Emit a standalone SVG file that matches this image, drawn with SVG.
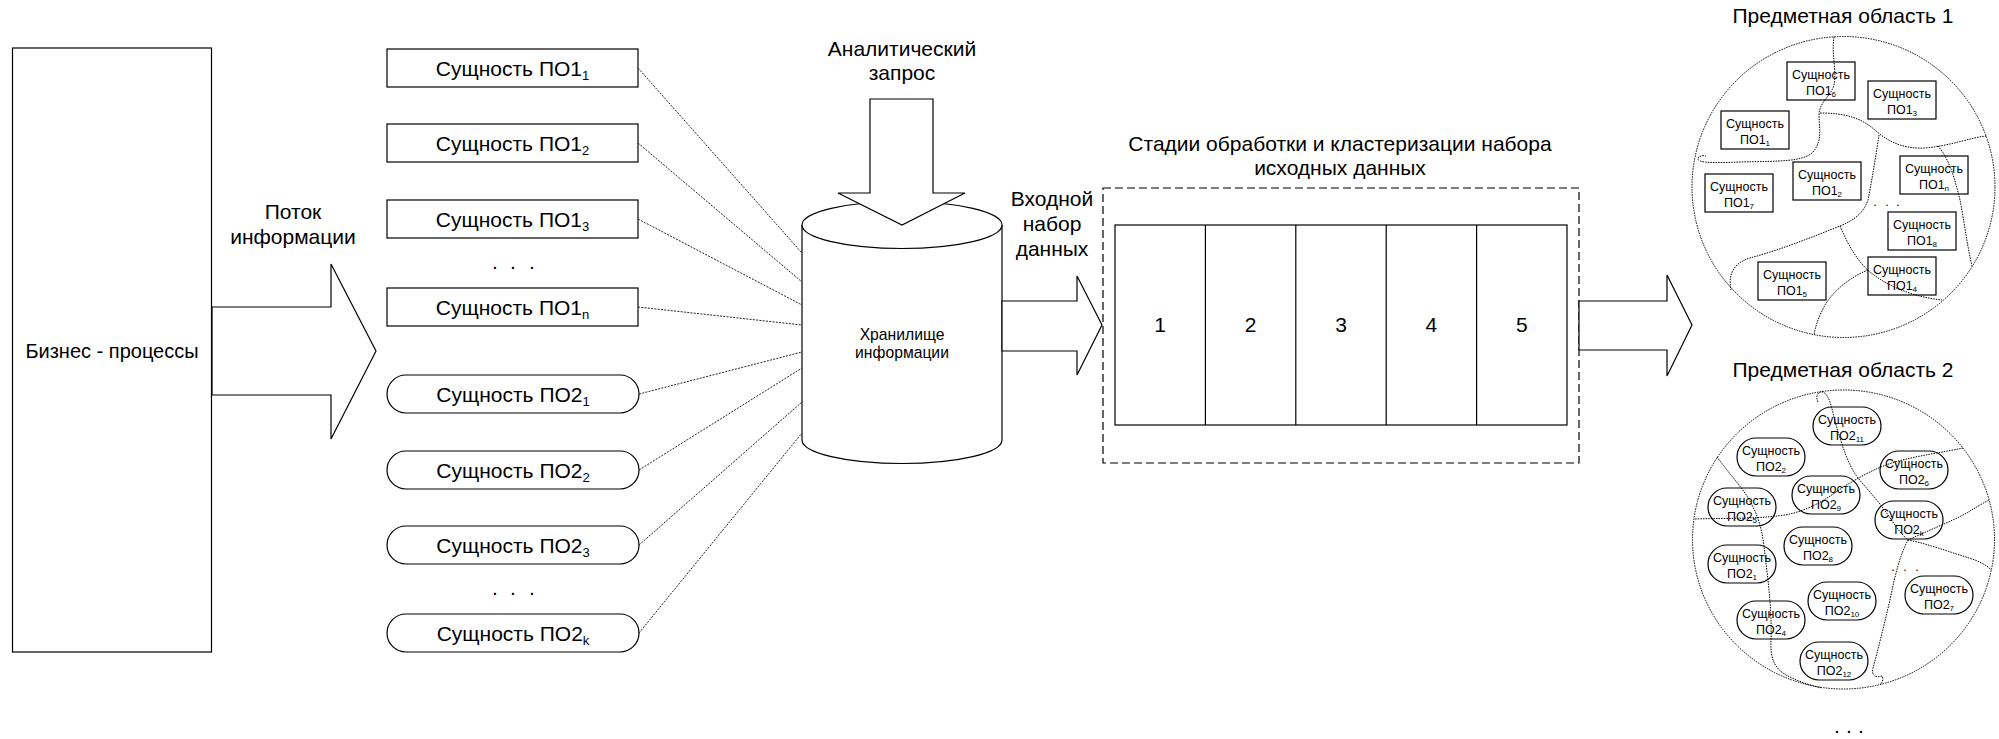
<svg xmlns="http://www.w3.org/2000/svg" width="1999" height="739" viewBox="0 0 1999 739">
  <style>
    text { font-family: "Liberation Sans", Arial, sans-serif; fill: #000; text-anchor: middle; }
    .lbl { font-size: 21px; }
    .big { font-size: 20px; }
    .mid { font-size: 15.7px; }
    .sm { font-size: 12.5px; }
    .sub { font-size: 13px; }
    .ssub { font-size: 8px; }
    .box { fill: #fff; stroke: #000; stroke-width: 1.2; }
    .solid { fill: #fff; stroke: #000; stroke-width: 1.2; }
    .dash { fill: none; stroke: #000; stroke-width: 1.2; stroke-dasharray: 8 4; }
    .dot { fill: none; stroke: #000; stroke-width: 1; stroke-dasharray: 1.5 1.1; }
    .link { fill: none; stroke: #222; stroke-width: 1; stroke-dasharray: 2 1.3; }
  </style>

  <!-- Business processes -->
  <g id="business">
    <rect class="box" x="12.5" y="48" width="199" height="604"/>
    <text class="big" x="112" y="358">Бизнес - процессы</text>
  </g>

  <!-- Information flow label -->
  <g id="flow-label">
    <text class="lbl" x="293" y="219">Поток</text>
    <text class="lbl" x="293" y="244">информации</text>
  </g>

  <!-- Subject area 1 entities -->
  <g id="e1-1"><rect class="box" x="387" y="49" width="251" height="38"/><text class="lbl" x="512.5" y="76">Сущность ПО1<tspan class="sub" dy="4">1</tspan></text></g>
  <g id="e1-2"><rect class="box" x="387" y="124" width="251" height="38"/><text class="lbl" x="512.5" y="151">Сущность ПО1<tspan class="sub" dy="4">2</tspan></text></g>
  <g id="e1-3"><rect class="box" x="387" y="200" width="251" height="38"/><text class="lbl" x="512.5" y="227">Сущность ПО1<tspan class="sub" dy="4">3</tspan></text></g>
  <text class="lbl" x="495 513 532" y="269">...</text>
  <g id="e1-n"><rect class="box" x="387" y="288" width="251" height="38"/><text class="lbl" x="512.5" y="315">Сущность ПО1<tspan class="sub" dy="4">n</tspan></text></g>

  <!-- Subject area 2 entities -->
  <g id="e2-1"><rect class="box" x="387" y="375" width="252" height="38" rx="19"/><text class="lbl" x="513" y="402">Сущность ПО2<tspan class="sub" dy="4">1</tspan></text></g>
  <g id="e2-2"><rect class="box" x="387" y="451" width="252" height="38" rx="19"/><text class="lbl" x="513" y="478">Сущность ПО2<tspan class="sub" dy="4">2</tspan></text></g>
  <g id="e2-3"><rect class="box" x="387" y="526" width="252" height="38" rx="19"/><text class="lbl" x="513" y="553">Сущность ПО2<tspan class="sub" dy="4">3</tspan></text></g>
  <text class="lbl" x="495 513 532" y="595">...</text>
  <g id="e2-k"><rect class="box" x="387" y="614" width="252" height="38" rx="19"/><text class="lbl" x="513" y="641">Сущность ПО2<tspan class="sub" dy="4">k</tspan></text></g>

  <!-- Information storage -->
  <g id="storage">
    <path class="solid" d="M802,225 L802,440 A100,23.5 0 0 0 1002,440 L1002,225"/>
    <ellipse class="solid" cx="902" cy="225" rx="100" ry="23.5"/>
    <text class="mid" x="902" y="340">Хранилище</text>
    <text class="mid" x="902" y="358">информации</text>
  </g>

  <!-- Analytical query -->
  <g id="query">
    <text class="lbl" x="902" y="56">Аналитический</text>
    <text class="lbl" x="902" y="80">запрос</text>
    <polygon class="solid" points="870,99 933,99 933,193 965,193 902,225 838,193 870,193"/>
  </g>

  <!-- Input data set label -->
  <g id="input-label">
    <text class="lbl" x="1052" y="206">Входной</text>
    <text class="lbl" x="1052" y="231">набор</text>
    <text class="lbl" x="1052" y="256">данных</text>
  </g>

  <!-- Processing and clustering stages -->
  <g id="stages">
    <text class="lbl" x="1340" y="151">Стадии обработки и кластеризации набора</text>
    <text class="lbl" x="1340" y="175">исходных данных</text>
    <rect class="dash" x="1103" y="188" width="476" height="275"/>
    <rect class="box" x="1115" y="225" width="452" height="200"/>
    <path fill="none" stroke="#000" stroke-width="1.2" d="M1205.4,225V425M1295.8,225V425M1386.2,225V425M1476.6,225V425"/>
    <text class="lbl" x="1160.2" y="332">1</text>
    <text class="lbl" x="1250.6" y="332">2</text>
    <text class="lbl" x="1341" y="332">3</text>
    <text class="lbl" x="1431.4" y="332">4</text>
    <text class="lbl" x="1521.8" y="332">5</text>
  </g>

  <!-- Subject area 1 -->
  <g id="area1">
    <text class="lbl" x="1843" y="23">Предметная область 1</text>
    <ellipse class="dot" cx="1843.5" cy="187" rx="151.5" ry="150.5"/>
    <g id="a1-6"><rect class="box" x="1787" y="62" width="68" height="38"/><text class="sm" x="1821" y="78.5">Сущность</text><text class="sm" x="1821" y="94.5">ПО1<tspan class="ssub" dy="2">6</tspan></text></g>
    <g id="a1-3"><rect class="box" x="1868" y="81" width="68" height="38"/><text class="sm" x="1902" y="97.5">Сущность</text><text class="sm" x="1902" y="113.5">ПО1<tspan class="ssub" dy="2">3</tspan></text></g>
    <g id="a1-1"><rect class="box" x="1721" y="111" width="68" height="38"/><text class="sm" x="1755" y="127.5">Сущность</text><text class="sm" x="1755" y="143.5">ПО1<tspan class="ssub" dy="2">1</tspan></text></g>
    <g id="a1-2"><rect class="box" x="1793" y="162" width="68" height="38"/><text class="sm" x="1827" y="178.5">Сущность</text><text class="sm" x="1827" y="194.5">ПО1<tspan class="ssub" dy="2">2</tspan></text></g>
    <g id="a1-n"><rect class="box" x="1900" y="156" width="68" height="38"/><text class="sm" x="1934" y="172.5">Сущность</text><text class="sm" x="1934" y="188.5">ПО1<tspan class="ssub" dy="2">n</tspan></text></g>
    <g id="a1-7"><rect class="box" x="1705" y="174" width="68" height="38"/><text class="sm" x="1739" y="190.5">Сущность</text><text class="sm" x="1739" y="206.5">ПО1<tspan class="ssub" dy="2">7</tspan></text></g>
    <text class="sm" x="1875 1887 1898" y="206">...</text>
    <g id="a1-8"><rect class="box" x="1888" y="212" width="68" height="38"/><text class="sm" x="1922" y="228.5">Сущность</text><text class="sm" x="1922" y="244.5">ПО1<tspan class="ssub" dy="2">8</tspan></text></g>
    <g id="a1-4"><rect class="box" x="1868" y="257" width="68" height="38"/><text class="sm" x="1902" y="273.5">Сущность</text><text class="sm" x="1902" y="289.5">ПО1<tspan class="ssub" dy="2">4</tspan></text></g>
    <g id="a1-5"><rect class="box" x="1758" y="262" width="68" height="38"/><text class="sm" x="1792" y="278.5">Сущность</text><text class="sm" x="1792" y="294.5">ПО1<tspan class="ssub" dy="2">5</tspan></text></g>
    <!-- cluster boundaries -->
    <path class="dot" d="M1834,37 C1831,55 1838,75 1833,88 C1828,98 1819,104 1819,115 C1819,128 1823,140 1813,152 C1803,162 1780,161 1740,162 C1715,163 1698,163 1698,159 C1698,156 1703,155 1706,156"/>
    <path class="dot" d="M1820,113 C1845,113 1862,118 1876,131 C1890,143 1905,149 1925,148 C1950,146 1972,137 1987,136"/>
    <path class="dot" d="M1879,135 C1876,155 1872,180 1868,200 C1864,212 1855,220 1840,226 C1815,236 1780,250 1750,258 C1733,263 1728,275 1731,290"/>
    <path class="dot" d="M1840,226 C1848,245 1858,262 1870,272 C1890,288 1915,297 1942,300"/>
    <path class="dot" d="M1868,270 C1848,278 1833,292 1825,305 C1818,318 1815,328 1814,335"/>
    <path class="dot" d="M1938,146 C1950,160 1955,180 1960,200 C1964,220 1967,245 1972,266"/>
  </g>

  <!-- Subject area 2 -->
  <g id="area2">
    <text class="lbl" x="1843" y="377">Предметная область 2</text>
    <ellipse class="dot" cx="1843.5" cy="539.5" rx="151" ry="149.5"/>
    <g id="b2-11"><rect class="box" x="1813" y="407" width="68" height="38" rx="19"/><text class="sm" x="1847" y="423.5">Сущность</text><text class="sm" x="1847" y="439.5">ПО2<tspan class="ssub" dy="2">11</tspan></text></g>
    <g id="b2-2"><rect class="box" x="1737" y="438" width="68" height="38" rx="19"/><text class="sm" x="1771" y="454.5">Сущность</text><text class="sm" x="1771" y="470.5">ПО2<tspan class="ssub" dy="2">2</tspan></text></g>
    <g id="b2-6"><rect class="box" x="1880" y="451" width="68" height="38" rx="19"/><text class="sm" x="1914" y="467.5">Сущность</text><text class="sm" x="1914" y="483.5">ПО2<tspan class="ssub" dy="2">6</tspan></text></g>
    <g id="b2-9"><rect class="box" x="1792" y="476" width="68" height="38" rx="19"/><text class="sm" x="1826" y="492.5">Сущность</text><text class="sm" x="1826" y="508.5">ПО2<tspan class="ssub" dy="2">9</tspan></text></g>
    <g id="b2-5"><rect class="box" x="1708" y="488" width="68" height="38" rx="19"/><text class="sm" x="1742" y="504.5">Сущность</text><text class="sm" x="1742" y="520.5">ПО2<tspan class="ssub" dy="2">5</tspan></text></g>
    <g id="b2-k"><rect class="box" x="1875" y="501" width="68" height="38" rx="19"/><text class="sm" x="1909" y="517.5">Сущность</text><text class="sm" x="1909" y="533.5">ПО2<tspan class="ssub" dy="2">k</tspan></text></g>
    <g id="b2-8"><rect class="box" x="1784" y="527" width="68" height="38" rx="19"/><text class="sm" x="1818" y="543.5">Сущность</text><text class="sm" x="1818" y="559.5">ПО2<tspan class="ssub" dy="2">8</tspan></text></g>
    <g id="b2-1"><rect class="box" x="1708" y="545" width="68" height="38" rx="19"/><text class="sm" x="1742" y="561.5">Сущность</text><text class="sm" x="1742" y="577.5">ПО2<tspan class="ssub" dy="2">1</tspan></text></g>
    <text class="sm" x="1893 1905 1917" y="571">...</text>
    <g id="b2-7"><rect class="box" x="1905" y="576" width="68" height="38" rx="19"/><text class="sm" x="1939" y="592.5">Сущность</text><text class="sm" x="1939" y="608.5">ПО2<tspan class="ssub" dy="2">7</tspan></text></g>
    <g id="b2-10"><rect class="box" x="1808" y="582" width="68" height="38" rx="19"/><text class="sm" x="1842" y="598.5">Сущность</text><text class="sm" x="1842" y="614.5">ПО2<tspan class="ssub" dy="2">10</tspan></text></g>
    <g id="b2-4"><rect class="box" x="1737" y="601" width="68" height="38" rx="19"/><text class="sm" x="1771" y="617.5">Сущность</text><text class="sm" x="1771" y="633.5">ПО2<tspan class="ssub" dy="2">4</tspan></text></g>
    <g id="b2-12"><rect class="box" x="1800" y="642" width="68" height="38" rx="19"/><text class="sm" x="1834" y="658.5">Сущность</text><text class="sm" x="1834" y="674.5">ПО2<tspan class="ssub" dy="2">12</tspan></text></g>
    <!-- cluster boundaries -->
    <path class="dot" d="M1818,402 C1815,396 1818,391 1823,392 C1830,395 1832,410 1836,425 C1842,445 1848,465 1858,478 C1868,490 1880,503 1888,515 C1895,525 1900,533 1908,540 C1900,555 1895,575 1890,600 C1884,625 1878,650 1873,668 C1871,676 1876,678 1882,676 C1884,679 1882,683 1880,685"/>
    <path class="dot" d="M1908,540 C1925,543 1950,552 1975,560 C1984,564 1989,567 1991,570"/>
    <path class="dot" d="M1908,540 C1925,532 1950,522 1965,514 C1975,508 1983,503 1989,500"/>
    <path class="dot" d="M1963,448 C1945,452 1920,455 1895,462 C1875,468 1860,477 1845,486 C1830,496 1815,508 1790,514 C1765,519 1730,518 1694,519"/>
    <path class="dot" d="M1717,457 C1730,475 1745,490 1752,505 C1760,520 1763,535 1765,555 C1768,580 1772,610 1771,640 C1770,660 1775,670 1790,677 C1800,682 1812,686 1822,688"/>
  </g>

  <text class="lbl" x="1837 1849 1861" y="733">...</text>

  <!-- Connectors: entity links and flow arrows -->
  <g id="connectors">
    <path class="link" d="M638,68L802,253M638,143L802,282M638,219L802,305M638,307L802,325M639,394L802,352M639,470L802,368M639,545L802,402M639,633L802,433"/>
    <polygon class="solid" points="212,307 331,307 331,264 376,351 331,439 331,395 212,395"/>
    <polygon class="solid" points="1002,301 1077,301 1077,276 1102,325 1077,375 1077,351 1002,351"/>
    <polygon class="solid" points="1579,301 1667,301 1667,275 1692,325 1667,376 1667,350 1579,350"/>
  </g>
</svg>
